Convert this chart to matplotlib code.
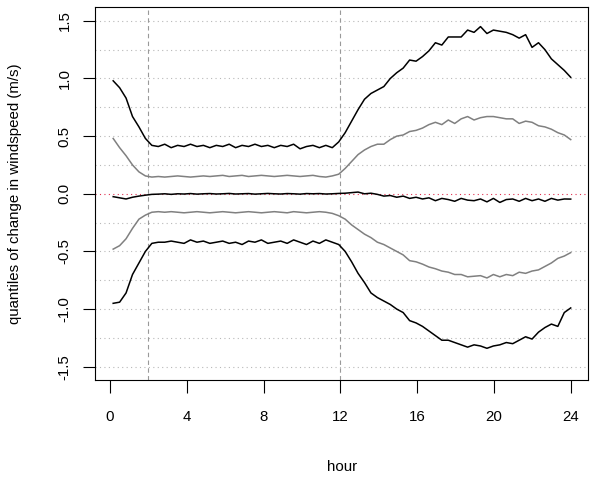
import numpy as np
import matplotlib
matplotlib.use("Agg")
import matplotlib.pyplot as plt

plt.rcParams['font.family'] = ['Liberation Sans', 'DejaVu Sans']

# time of day, 72 steps between 0.17 h and 24 h
hour = np.linspace(1 / 6, 24, 72)

# outer upper quantile (black)
q_hi = [0.98, 0.92, 0.83, 0.67, 0.58, 0.48, 0.42, 0.41, 0.43, 0.40, 0.42, 0.41,
        0.43, 0.41, 0.42, 0.40, 0.42, 0.41, 0.43, 0.40, 0.42, 0.41, 0.43, 0.41,
        0.42, 0.40, 0.42, 0.41, 0.43, 0.39, 0.41, 0.42, 0.40, 0.42, 0.40, 0.45,
        0.53, 0.63, 0.73, 0.82, 0.87, 0.90, 0.93, 1.00, 1.05, 1.09, 1.16, 1.15,
        1.19, 1.24, 1.31, 1.29, 1.36, 1.36, 1.36, 1.42, 1.40, 1.45, 1.39, 1.42,
        1.41, 1.40, 1.38, 1.35, 1.38, 1.27, 1.31, 1.25, 1.17, 1.12, 1.07, 1.01]

# inner upper quantile (grey)
q_mhi = [0.48, 0.40, 0.33, 0.25, 0.19, 0.155, 0.145, 0.15, 0.145, 0.15, 0.155, 0.15,
         0.145, 0.15, 0.155, 0.15, 0.155, 0.16, 0.15, 0.155, 0.16, 0.15, 0.155, 0.16,
         0.155, 0.15, 0.155, 0.16, 0.155, 0.15, 0.155, 0.16, 0.15, 0.145, 0.155, 0.17,
         0.22, 0.28, 0.34, 0.38, 0.41, 0.43, 0.43, 0.47, 0.50, 0.51, 0.54, 0.55,
         0.57, 0.60, 0.62, 0.60, 0.64, 0.61, 0.65, 0.67, 0.64, 0.66, 0.67, 0.67,
         0.66, 0.65, 0.65, 0.61, 0.63, 0.62, 0.59, 0.58, 0.56, 0.53, 0.51, 0.47]

# median (black)
q_med = [-0.025, -0.035, -0.045, -0.03, -0.02, -0.012, -0.005, -0.003, 0.0, -0.005, 0.0, -0.002,
         0.002, -0.003, 0.0, 0.002, -0.002, 0.0, 0.003, -0.002, 0.0, 0.002, -0.003, 0.0,
         0.003, 0.0, -0.002, 0.002, 0.0, -0.003, 0.002, 0.0, 0.002, -0.002, 0.0, 0.003,
         0.005, 0.01, 0.015, 0.0, 0.005, -0.005, -0.02, -0.015, -0.03, -0.02, -0.04, -0.03,
         -0.045, -0.035, -0.06, -0.04, -0.05, -0.065, -0.04, -0.055, -0.06, -0.045, -0.07, -0.04,
         -0.075, -0.05, -0.045, -0.065, -0.04, -0.06, -0.045, -0.065, -0.04, -0.055, -0.045, -0.046]

# inner lower quantile (grey)
q_mlo = [-0.48, -0.45, -0.39, -0.30, -0.22, -0.185, -0.16, -0.155, -0.16, -0.155, -0.16, -0.165,
         -0.16, -0.155, -0.16, -0.165, -0.16, -0.155, -0.16, -0.165, -0.16, -0.155, -0.16, -0.165,
         -0.16, -0.155, -0.16, -0.165, -0.155, -0.16, -0.165, -0.16, -0.155, -0.16, -0.17, -0.19,
         -0.22, -0.27, -0.31, -0.35, -0.38, -0.42, -0.44, -0.47, -0.50, -0.53, -0.58, -0.59,
         -0.61, -0.635, -0.65, -0.67, -0.68, -0.70, -0.70, -0.72, -0.715, -0.71, -0.73, -0.70,
         -0.72, -0.70, -0.71, -0.68, -0.69, -0.67, -0.66, -0.63, -0.60, -0.56, -0.54, -0.51]

# outer lower quantile (black)
q_lo = [-0.95, -0.94, -0.86, -0.70, -0.60, -0.50, -0.43, -0.42, -0.42, -0.41, -0.42, -0.43,
        -0.40, -0.42, -0.41, -0.43, -0.42, -0.41, -0.43, -0.42, -0.44, -0.41, -0.42, -0.40,
        -0.43, -0.42, -0.41, -0.43, -0.40, -0.42, -0.44, -0.41, -0.43, -0.40, -0.42, -0.44,
        -0.50, -0.59, -0.69, -0.77, -0.86, -0.90, -0.93, -0.96, -1.00, -1.03, -1.10, -1.12,
        -1.15, -1.19, -1.23, -1.27, -1.27, -1.29, -1.31, -1.33, -1.31, -1.32, -1.34, -1.32,
        -1.31, -1.29, -1.30, -1.27, -1.24, -1.26, -1.20, -1.16, -1.13, -1.15, -1.03, -0.99]

xticks = [0, 4, 8, 12, 16, 20, 24]
yticks = [-1.5, -1.0, -0.5, 0.0, 0.5, 1.0, 1.5]
grid_y = np.arange(-1.5, 1.51, 0.25)
vlines = [2, 12]

fig = plt.figure(figsize=(5.96, 4.79), dpi=100)
ax = fig.add_axes([95 / 596, 1 - 380 / 479, 493 / 596, 373 / 479])

# background guides
for g in grid_y:
    if abs(g) < 1e-9:
        continue
    ax.axhline(g, color='#b8b8b8', lw=0.8, linestyle=(0, (1, 3)), zorder=1)
ax.axhline(0, color='#e03050', lw=0.8, linestyle=(0, (1, 3)), zorder=1)
for v in vlines:
    ax.axvline(v, color='#999999', lw=0.8, linestyle=(0, (4, 3)), zorder=1)

ax.plot(hour, q_hi, color='black', lw=1.1, zorder=3)
ax.plot(hour, q_mhi, color='#808080', lw=1.1, zorder=3)
ax.plot(hour, q_med, color='black', lw=1.1, zorder=3)
ax.plot(hour, q_mlo, color='#808080', lw=1.1, zorder=3)
ax.plot(hour, q_lo, color='black', lw=1.1, zorder=3)

ax.set_xlim(-0.78, 24.9)
ax.set_ylim(-1.615, 1.62)
ax.set_xticks(xticks)
ax.set_xticklabels([str(t) for t in xticks])
ax.set_yticks(yticks)
ax.set_yticklabels(['%.1f' % t for t in yticks], rotation=90, va='center')
ax.tick_params(axis='x', length=9.5, width=0.8, pad=12, labelsize=10.8)
ax.tick_params(axis='y', length=9, width=0.8, pad=8, labelsize=10.8)
for s in ax.spines.values():
    s.set_linewidth(0.8)

fig.text(15 / 596, 1 - 193.5 / 479, 'quantiles of change in windspeed (m/s)',
         rotation=90, ha='center', va='center', fontsize=10.8)
fig.text(342 / 596, 1 - 467 / 479, 'hour', ha='center', va='center', fontsize=10.8)

fig.savefig('out.png', dpi=100)
